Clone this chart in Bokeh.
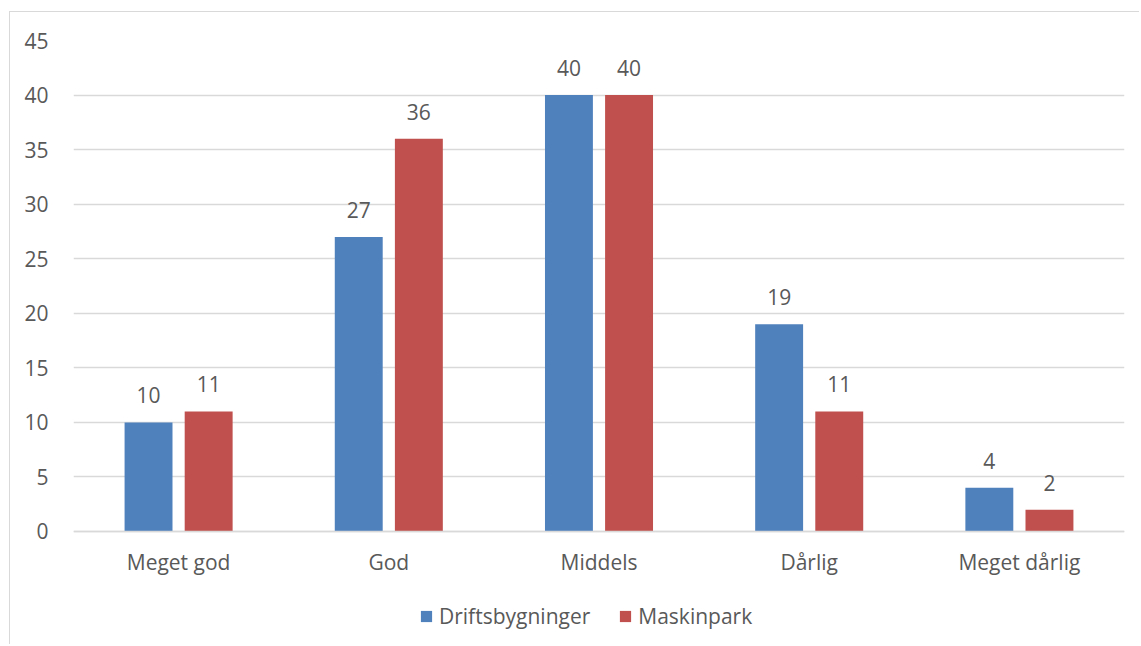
from bokeh.plotting import figure
from bokeh.models import ColumnDataSource, FactorRange, Range1d, Legend, LegendItem, LabelSet, FixedTicker
from bokeh.transform import dodge
from bokeh.core.properties import value
from bokeh.embed import file_html
from bokeh.resources import INLINE

categories = ["Meget god", "God", "Middels", "Dårlig", "Meget dårlig"]
driftsbygninger = [10, 27, 40, 19, 4]
maskinpark = [11, 36, 40, 11, 2]
series_names = ["Driftsbygninger", "Maskinpark"]
y_ticks = [0, 5, 10, 15, 20, 25, 30, 35, 40, 45]

BLUE = "#4F81BD"
RED = "#C0504D"
TEXT = "#595959"
FONT = "Open Sans"
FS = "21px"

src = ColumnDataSource(dict(cat=categories, d=driftsbygninger, m=maskinpark,
                            dl=[str(v) for v in driftsbygninger],
                            ml=[str(v) for v in maskinpark]))

# y range extends below 0 to leave room (inside the frame) for category labels and legend
p = figure(x_range=FactorRange(*categories, range_padding=0), y_range=Range1d(-10.45, 45),
           width=1130, height=633, output_backend="svg", toolbar_location=None,
           min_border_left=63, min_border_right=16, min_border_top=28, min_border_bottom=0)
p.styles = {"border-left": "1px solid #d9d9d9", "border-top": "1px solid #d9d9d9",
            "margin-left": "9px", "margin-top": "11px"}

off = 0.143
w = 0.228
r1 = p.vbar(x=dodge("cat", -off, range=p.x_range), top="d", width=w, source=src,
            fill_color=BLUE, line_color=None)
r2 = p.vbar(x=dodge("cat", off, range=p.x_range), top="m", width=w, source=src,
            fill_color=RED, line_color=None)

for col, lab, o in (("d", "dl", -off), ("m", "ml", off)):
    ls = LabelSet(x=dodge("cat", o, range=p.x_range), y=col, text=lab, source=src,
                  text_align="center", text_baseline="alphabetic", y_offset=19,
                  text_font=value(FONT), text_font_size=value(FS), text_color=TEXT)
    p.add_layout(ls)

p.outline_line_color = None
p.xgrid.grid_line_color = None
p.ygrid.grid_line_color = "#d9d9d9"
p.ygrid.grid_line_width = 1.5
p.yaxis.ticker = FixedTicker(ticks=y_ticks)
p.yaxis.axis_line_color = None
p.yaxis.major_tick_line_color = None
p.yaxis.minor_tick_line_color = None
p.yaxis.major_label_standoff = 19
p.xaxis.fixed_location = 0
p.xaxis.axis_line_color = "#d9d9d9"
p.xaxis.axis_line_width = 1.5
p.xaxis.major_tick_line_color = None
p.xaxis.minor_tick_line_color = None
p.xaxis.major_label_standoff = 11
for ax in (p.xaxis[0], p.yaxis[0]):
    ax.major_label_text_font = FONT
    ax.major_label_text_font_size = FS
    ax.major_label_text_color = TEXT

legend = Legend(items=[LegendItem(label=series_names[0], renderers=[r1]),
                       LegendItem(label=series_names[1], renderers=[r2])],
                orientation="horizontal", location=(346, 15),
                label_text_font=FONT, label_text_font_size=FS, label_text_color=TEXT,
                glyph_width=14, glyph_height=14, spacing=28, label_standoff=6,
                background_fill_alpha=0, border_line_color=None, padding=0, margin=0)
p.add_layout(legend, "center")

open("out.html", "w").write(file_html(p, INLINE))
